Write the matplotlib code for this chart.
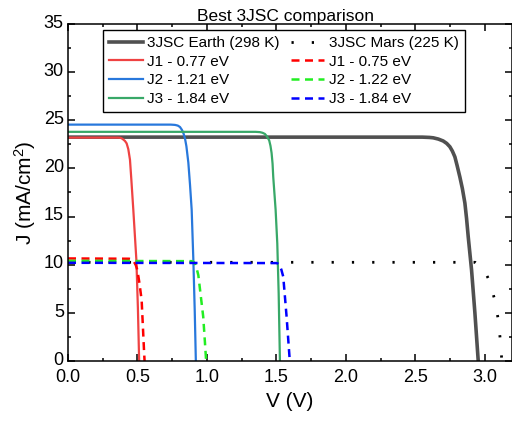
import matplotlib
matplotlib.use("Agg")
import matplotlib.pyplot as plt
import matplotlib.transforms as mtransforms
from matplotlib.ticker import MultipleLocator, FormatStrFormatter

plt.rcParams['font.family'] = ['Liberation Sans', 'DejaVu Sans']
plt.rcParams['mathtext.default'] = 'regular'

# ---- data ----
earth_v = [0.0, 2.55, 2.60, 2.628, 2.665, 2.70, 2.725, 2.748, 2.766, 2.784, 2.80, 2.82,
           2.838, 2.856, 2.868, 2.88, 2.904, 2.928, 2.952]
earth_j = [23.25, 23.25, 23.22, 23.18, 23.05, 22.85, 22.6, 22.25, 21.8, 21.2, 20.3, 19.1,
           17.9, 16.4, 14.8, 12.9, 9.45, 5.0, 0.0]

j1e_v = [0.0, 0.36, 0.375, 0.386, 0.398, 0.41, 0.422, 0.434, 0.446, 0.456, 0.47, 0.492, 0.503, 0.512]
j1e_j = [23.2, 23.2, 23.18, 23.13, 23.0, 22.85, 22.6, 22.0, 20.9, 18.8, 15.7, 10.5, 5.5, 0.0]

j2e_v = [0.0, 0.74, 0.77, 0.79, 0.806, 0.82, 0.832, 0.842, 0.852, 0.866, 0.878, 0.89, 0.902, 0.912, 0.920]
j2e_j = [24.55, 24.55, 24.52, 24.45, 24.3, 24.0, 23.6, 23.1, 22.3, 20.6, 18.3, 15.7, 10.5, 5.2, 0.0]

j3e_v = [0.0, 1.35, 1.381, 1.40, 1.417, 1.433, 1.448, 1.457, 1.465, 1.472, 1.477, 1.494, 1.506, 1.516, 1.525]
j3e_j = [23.8, 23.8, 23.77, 23.7, 23.58, 23.3, 22.9, 22.35, 21.6, 20.5, 19.1, 15.7, 12.2, 7.0, 0.0]

mars_v = [0.0, 2.93, 2.99, 3.03, 3.07, 3.095, 3.11, 3.122]
mars_j = [10.25, 10.25, 9.6, 8.4, 6.4, 4.4, 2.3, 0.0]

j1m_v = [0.0, 0.44, 0.46, 0.475, 0.488, 0.499, 0.515, 0.53, 0.547, 0.551]
j1m_j = [10.65, 10.62, 10.55, 10.3, 9.95, 9.45, 8.0, 6.3, 1.1, 0.0]

j2m_v = [0.0, 0.89, 0.905, 0.914, 0.926, 0.938, 0.973, 0.986, 0.994]
j2m_j = [10.4, 10.37, 10.28, 10.1, 9.6, 8.9, 4.6, 1.8, 0.0]

j3m_v = [0.0, 1.50, 1.512, 1.52, 1.535, 1.549, 1.573, 1.592, 1.596]
j3m_j = [10.2, 10.17, 10.1, 10.0, 9.5, 8.75, 4.6, 0.8, 0.0]

earth_labels = ["3JSC Earth (298 K)", "J1 - 0.77 eV", "J2 - 1.21 eV", "J3 - 1.84 eV"]
mars_labels = ["3JSC Mars (225 K)", "J1 - 0.75 eV", "J2 - 1.22 eV", "J3 - 1.84 eV"]

fig = plt.figure(figsize=(5.12, 4.23), dpi=100)
ax = fig.add_axes([68/512, 62/423, 444/512, 337/423])

h = []
h += ax.plot(earth_v, earth_j, color='#505050', lw=2.6, label=earth_labels[0])
h += ax.plot(j1e_v, j1e_j, color='#ef4242', lw=1.6, label=earth_labels[1])
h += ax.plot(j2e_v, j2e_j, color='#2878dc', lw=1.6, label=earth_labels[2])
h += ax.plot(j3e_v, j3e_j, color='#38a868', lw=1.6, label=earth_labels[3])
h += ax.plot(mars_v, mars_j, color='black', lw=2.0, linestyle=(0, (0.8, 6.5)),
             label=mars_labels[0])
h += ax.plot(j1m_v, j1m_j, color='#ff0000', lw=1.8, linestyle=(0, (3.2, 2.2)), label=mars_labels[1])
h += ax.plot(j2m_v, j2m_j, color='#22ee22', lw=1.8, linestyle=(0, (3.2, 2.2)), label=mars_labels[2])
h += ax.plot(j3m_v, j3m_j, color='#0000ff', lw=1.8, linestyle=(0, (3.2, 2.2)), label=mars_labels[3])

ax.set_xlim(0, 3.195)
ax.set_ylim(0, 35)
ax.xaxis.set_major_locator(MultipleLocator(0.5))
ax.xaxis.set_minor_locator(MultipleLocator(0.25))
ax.yaxis.set_major_locator(MultipleLocator(5))
ax.yaxis.set_minor_locator(MultipleLocator(2.5))
ax.xaxis.set_major_formatter(FormatStrFormatter('%.1f'))
ax.tick_params(which='both', direction='in', top=True, right=True, width=1.1)
ax.tick_params(which='major', length=5, labelsize=13)
ax.tick_params(axis='x', which='major', pad=6)
ax.tick_params(axis='y', which='major', pad=3)
ax.tick_params(which='minor', length=2.5)
for s in ax.spines.values():
    s.set_linewidth(1.1)

# nudge y tick labels up slightly so "0" and "0.0" do not collide
offset = mtransforms.ScaledTranslation(0, 2/72, fig.dpi_scale_trans)
for lab in ax.get_yticklabels():
    lab.set_transform(lab.get_transform() + offset)

ax.set_xlabel("V (V)", fontsize=15, labelpad=4)
ax.set_ylabel("J (mA/cm$^2$)", fontsize=15, labelpad=4)
ax.set_title("Best 3JSC comparison", fontsize=12.5, pad=2, x=0.49)

leg = ax.legend(handles=h, ncol=2, loc='upper left', bbox_to_anchor=(0.079, 0.982),
                borderaxespad=0, fontsize=11, handlelength=2.2, handletextpad=0.3,
                columnspacing=0.7, labelspacing=0.3, borderpad=0.4,
                fancybox=False, framealpha=1, edgecolor='black')
leg.get_frame().set_linewidth(1.0)

fig.savefig("out.png", dpi=100)
